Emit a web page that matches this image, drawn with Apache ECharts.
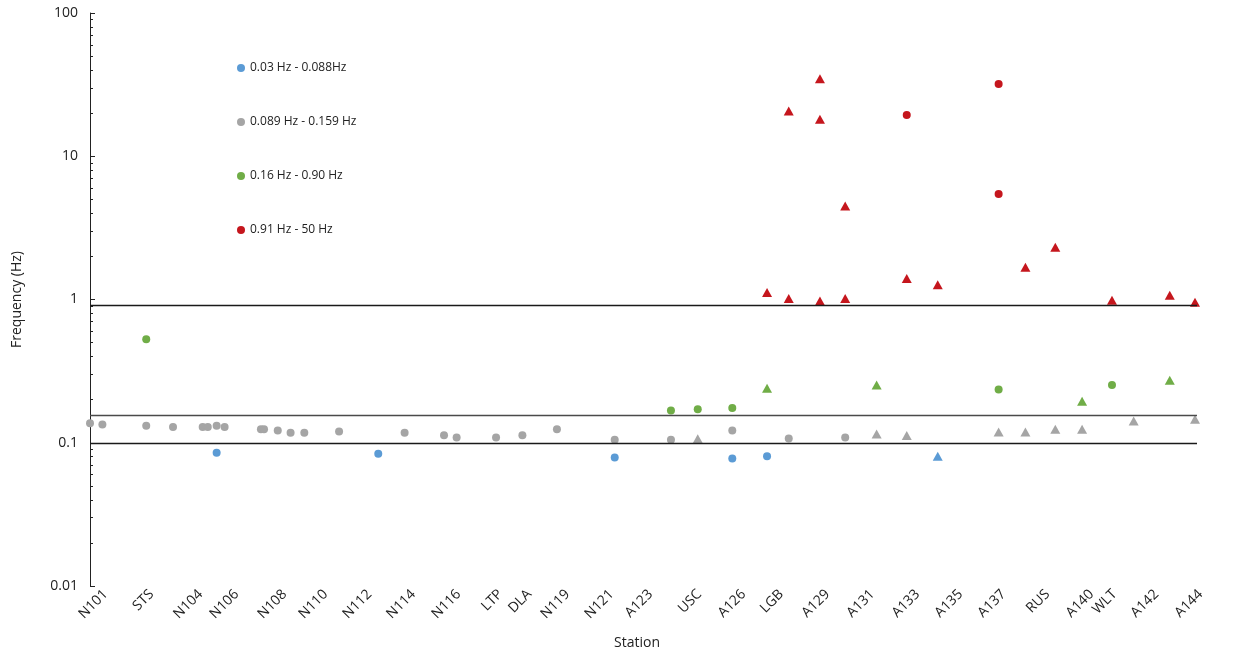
<!DOCTYPE html>
<html>
<head>
<meta charset="utf-8">
<script src="https://cdn.jsdelivr.net/npm/echarts@6/dist/echarts.min.js"></script>
<style>
html,body{margin:0;padding:0;background:#fff;}
#chart{width:1239px;height:650px;}
</style>
</head>
<body>
<div id="chart"></div>
<script>
// Station tick labels and their positions along the x axis
var stationNames = ['N101','STS','N104','N106','N108','N110','N112','N114','N116','LTP','DLA','N119','N121','A123','USC','A126','LGB','A129','A131','A133','A135','A137','RUS','A140','WLT','A142','A144'];
var stationPos = [0.70,2.78,4.99,6.62,8.79,10.64,12.63,14.61,16.65,18.54,19.85,21.57,23.56,25.32,27.53,29.52,31.23,33.31,35.34,37.38,39.32,41.26,43.25,45.24,46.28,48.17,50.16];

// y axis tick values
var yMajorTicks = [0.01, 0.1, 1, 10, 100];
var yMinorTicks = [0.02,0.03,0.04,0.05,0.06,0.07,0.08,0.09,0.2,0.3,0.4,0.5,0.6,0.7,0.8,0.9,2,3,4,5,6,7,8,9,20,30,40,50,60,70,80,90];

// band boundary lines (Hz) and their x extent
var bandLines = [0.91, 0.155, 0.1];
var bandXRange = [0, 50];

// series names
var names = ['0.03 Hz - 0.088Hz', '0.089 Hz - 0.159 Hz', '0.16 Hz - 0.90 Hz', '0.91 Hz - 50 Hz'];

// [x position, frequency]
var blueCircle = [[5.72,0.0851],[13.02,0.0838],[23.70,0.0789],[29.01,0.0777],[30.58,0.0806]];
var blueTri = [[38.29,0.0806]];

var greyCircle = [[0,0.137],[0.56,0.134],[2.54,0.1315],[3.75,0.129],[5.09,0.129],[5.32,0.129],[5.72,0.1315],[6.08,0.129],[7.72,0.124],[7.86,0.124],[8.48,0.122],[9.06,0.1175],[9.68,0.1175],[11.25,0.120],[14.21,0.1175],[15.99,0.113],[16.56,0.109],[18.34,0.109],[19.53,0.113],[21.09,0.124],[23.70,0.105],[26.24,0.105],[29.01,0.122],[31.56,0.107],[34.11,0.109]];
var greyTri = [[27.45,0.1066],[35.53,0.115],[36.89,0.1125],[41.04,0.119],[42.25,0.119],[43.60,0.124],[44.81,0.124],[47.14,0.1416],[49.91,0.146]];

var greenCircle = [[2.54,0.527],[26.24,0.168],[27.45,0.171],[29.01,0.1746],[41.04,0.235],[46.16,0.253]];
var greenTri = [[30.58,0.240],[35.53,0.253],[44.81,0.195],[48.77,0.273]];

var redCircle = [[36.89,19.4],[41.04,31.9],[41.04,5.45]];
var redTri = [[30.58,1.12],[31.56,1.016],[31.56,20.7],[32.97,34.7],[32.97,18.1],[32.97,0.978],[34.11,4.49],[34.11,1.016],[36.89,1.40],[38.29,1.27],[42.25,1.68],[43.60,2.32],[46.16,0.99],[48.77,1.07],[49.91,0.957]];

var colors = ['#5B9BD5', '#A5A5A5', '#70AD47', '#C5161D'];
var lineColors = ['#1a1a1a', '#4a4a4a', '#1a1a1a'];
var FONT = 'Open Sans';

function circleSeries(name, color, data) {
  return { type: 'scatter', name: name, data: data, symbol: 'circle', symbolSize: 8,
    itemStyle: { color: color, opacity: 1 }, z: 3, yAxisIndex: 0 };
}
function triSeries(name, color, data) {
  return { type: 'scatter', name: name, data: data, symbol: 'triangle', symbolSize: [10, 9],
    itemStyle: { color: color, opacity: 1 }, z: 3, yAxisIndex: 0 };
}

var bandLineData = bandLines.map(function (v, i) {
  return [
    { coord: [bandXRange[0], v], lineStyle: { color: lineColors[i], width: 1.3, type: 'solid' } },
    { coord: [bandXRange[1], v] }
  ];
});

var chart = echarts.init(document.getElementById('chart'), null, { renderer: 'canvas' });
chart.setOption({
  animation: false,
  backgroundColor: '#fff',
  textStyle: { fontFamily: FONT },
  grid: { left: 90, right: 19.86, top: 13, bottom: 64, containLabel: false, outerBoundsMode: 'none' },
  legend: {
    data: names,
    orient: 'vertical',
    left: 232, top: 56,
    icon: 'circle',
    itemWidth: 8, itemHeight: 8,
    itemGap: 40,
    selectedMode: false,
    textStyle: { fontFamily: FONT, fontSize: 12, color: '#222', lineHeight: 14 }
  },
  xAxis: {
    type: 'value', min: 0, max: 51,
    name: 'Station', nameLocation: 'middle', nameGap: 50,
    nameTextStyle: { fontFamily: FONT, fontSize: 14, color: '#222', padding: [0, 35, 0, 0] },
    axisLine: { show: false }, axisTick: { show: false }, splitLine: { show: false },
    axisLabel: {
      customValues: stationPos,
      rotate: 45, margin: 6,
      fontFamily: FONT, fontSize: 14, color: '#222',
      formatter: function (v) {
        for (var i = 0; i < stationPos.length; i++) {
          if (Math.abs(stationPos[i] - v) < 1e-6) return stationNames[i];
        }
        return '';
      }
    }
  },
  yAxis: [{
    type: 'log', logBase: 10, min: 0.01, max: 100,
    name: 'Frequency (Hz)', nameLocation: 'middle', nameGap: 66,
    nameTextStyle: { fontFamily: FONT, fontSize: 14, color: '#222' },
    axisLine: { show: true, lineStyle: { color: '#222', width: 1 } },
    axisTick: { show: true, inside: true, length: 5, customValues: yMajorTicks, lineStyle: { color: '#222' } },
    axisLabel: { customValues: yMajorTicks, fontFamily: FONT, fontSize: 14, color: '#222', margin: 12,
      formatter: function (v) { return String(v); } },
    splitLine: { show: false }
  }, {
    type: 'log', logBase: 10, min: 0.01, max: 100, position: 'left', offset: 0,
    axisLine: { show: false },
    axisTick: { show: true, inside: true, length: 3, customValues: yMinorTicks, lineStyle: { color: '#222' } },
    axisLabel: { show: false },
    splitLine: { show: false }
  }],
  series: [
    circleSeries(names[0], colors[0], blueCircle),
    circleSeries(names[1], colors[1], greyCircle),
    circleSeries(names[2], colors[2], greenCircle),
    circleSeries(names[3], colors[3], redCircle),
    triSeries(names[0], colors[0], blueTri),
    triSeries(names[1], colors[1], greyTri),
    triSeries(names[2], colors[2], greenTri),
    triSeries(names[3], colors[3], redTri),
    {
      type: 'scatter', name: 'bands', data: [], z: 1, yAxisIndex: 0, silent: true,
      markLine: {
        silent: true, symbol: 'none', animation: false,
        label: { show: false },
        data: bandLineData
      }
    }
  ]
});
</script>
</body>
</html>
